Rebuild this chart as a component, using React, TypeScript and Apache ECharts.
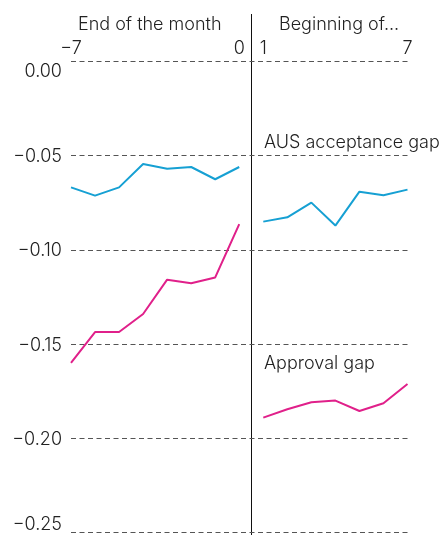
import React, { useEffect, useRef } from "react";
import * as echarts from "echarts";

const xLeft = [-7, -6, -5, -4, -3, -2, -1, 0];
const xRight = [1, 2, 3, 4, 5, 6, 7];
const ausLeft = [-0.0668, -0.0712, -0.0668, -0.0544, -0.0569, -0.056, -0.0625, -0.056];
const ausRight = [-0.085, -0.0827, -0.0749, -0.0871, -0.0691, -0.071, -0.068];
const apprLeft = [-0.16, -0.1436, -0.1436, -0.134, -0.1158, -0.1177, -0.1146, -0.0863];
const apprRight = [-0.189, -0.1846, -0.1809, -0.18, -0.1855, -0.1814, -0.1712];
const xTickLabels = [-7, 0, 1, 7];
const panelTitles = ["End of the month", "Beginning of..."];
const seriesNames = ["AUS acceptance gap", "Approval gap"];
const dividerX = 0.5;

const FONT = "Inter";
const TXT = "#222";
const BLUE = "#16a0d3";
const PINK = "#e0208a";
const FS = 18;

const fmtNum = (v: number, d: number) =>
  v < 0 ? "\u2212" + Math.abs(v).toFixed(d) : v.toFixed(d);

export default function App() {
  const ref = useRef<HTMLDivElement>(null);
  useEffect(() => {
    const chart = echarts.init(ref.current!, null, { renderer: "svg" });
    const pair = (xs: number[], ys: number[]) => xs.map((x, i) => [x, ys[i]]);
    const texts = [
      { type: "text", left: 78, top: 14, style: { text: panelTitles[0], font: `300 ${FS}px ${FONT}`, fill: TXT } },
      { type: "text", left: 279, top: 14, style: { text: panelTitles[1], font: `300 ${FS}px ${FONT}`, fill: TXT } },
      { type: "text", left: 264, top: 132, style: { text: seriesNames[0], font: `300 ${FS}px ${FONT}`, fill: TXT } },
      { type: "text", left: 264, top: 353, style: { text: seriesNames[1], font: `300 ${FS}px ${FONT}`, fill: TXT } },
    ];
    chart.setOption({
      animation: false,
      grid: { left: 71, right: 32.5, top: 61.5, bottom: 2.5 },
      xAxis: {
        type: "value",
        position: "top",
        min: -7,
        max: 7,
        interval: 1,
        axisLine: { show: false },
        axisTick: { show: false },
        splitLine: { show: false },
        axisLabel: {
          margin: 5,
          fontFamily: FONT,
          fontSize: FS,
          fontWeight: 300,
          color: TXT,
          formatter: (v: number) => (xTickLabels.includes(v) ? fmtNum(v, 0) : ""),
        },
      },
      yAxis: {
        type: "value",
        min: -0.25,
        max: 0,
        interval: 0.05,
        axisLine: { show: false },
        axisTick: { show: false },
        splitLine: { lineStyle: { color: "#555", type: [5, 3.5], width: 1 } },
        axisLabel: {
          margin: 9,
          fontFamily: FONT,
          fontSize: FS,
          fontWeight: 300,
          color: TXT,
          verticalAlignMinLabel: "bottom",
          verticalAlignMaxLabel: "top",
          formatter: (v: number) => fmtNum(v, 2),
        },
      },
      graphic: texts,
      series: [
        { type: "line", name: seriesNames[0], data: pair(xLeft, ausLeft), symbol: "none", lineStyle: { color: BLUE, width: 2 } },
        { type: "line", name: seriesNames[0], data: pair(xRight, ausRight), symbol: "none", lineStyle: { color: BLUE, width: 2 } },
        { type: "line", name: seriesNames[1], data: pair(xLeft, apprLeft), symbol: "none", lineStyle: { color: PINK, width: 2 } },
        { type: "line", name: seriesNames[1], data: pair(xRight, apprRight), symbol: "none", lineStyle: { color: PINK, width: 2 } },
      ],
    });
    const px = chart.convertToPixel({ xAxisIndex: 0, yAxisIndex: 0 }, [dividerX, 0]) as number[];
    chart.setOption({
      graphic: [
        ...texts,
        {
          type: "line",
          silent: true,
          shape: { x1: Math.round(px[0]) + 0.5, y1: 14, x2: Math.round(px[0]) + 0.5, y2: 535 },
          style: { stroke: "#111", lineWidth: 1 },
        },
      ],
    });
    return () => chart.dispose();
  }, []);
  return <div ref={ref} style={{ position: "fixed", left: 0, top: 0, width: 440, height: 535 }} />;
}
